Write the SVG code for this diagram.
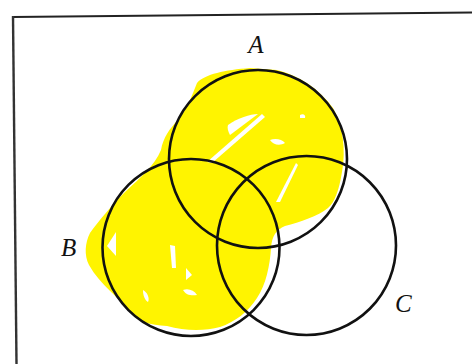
<svg xmlns="http://www.w3.org/2000/svg" width="472" height="364" viewBox="0 0 472 364">
<style>
.set{fill:none;stroke:#111;stroke-width:2.6}
.lbl{font-family:"Liberation Serif","DejaVu Serif",serif;font-style:italic;font-size:25px;fill:#111}
.gap{fill:#fff}
</style>
<rect width="472" height="364" fill="#fff"/>
<g id="frame">
<path d="M12.5,17 L472,12.5" stroke="#222" stroke-width="2.2" fill="none"/>
<path d="M13,16 L16.5,364" stroke="#333" stroke-width="2.4" fill="none"/>
</g>
<g id="shading">
<path fill="#FFF400" d="M197,83 C205,74 225,70 250,68 L277,70 C300,76 318,88 333,108 C343,125 346,150 342,172 C339,190 335,202 328,208 C318,216 300,222 285,226 C276,230 272,236 271,248 C270,265 266,285 257,298 C248,312 235,322 220,327 C205,331 185,331 167,326 C150,325 138,322 130,312 C120,298 100,285 89,265 C84,255 85,243 90,233 C98,222 112,205 125,192 C140,178 155,165 161,150 C163,138 170,128 178,120 C186,110 190,100 193,93 Z"/>
<path class="gap" d="M207,162 L262,114 L265,117 L212,163 Z"/>
<path class="gap" d="M228,125 C238,118 250,114 258,114 L230,135 C228,131 227,128 228,125 Z"/>
<path class="gap" d="M276,202 L296,163 L298,165 L280,202 Z"/>
<path class="gap" d="M270,140 C275,138 282,139 285,143 C280,146 273,145 270,140 Z"/>
<path class="gap" d="M300,115 C303,113 306,115 305,118 L300,118 Z"/>
<path class="gap" d="M107,246 L116,232 L116,256 Z"/>
<path class="gap" d="M170,245 L175,246 L176,268 L172,268 Z"/>
<path class="gap" d="M183,290 C188,288 194,290 197,295 C191,296 186,295 183,290 Z"/>
<path class="gap" d="M143,290 C147,292 150,298 148,302 C145,300 143,296 143,290 Z"/>
<path class="gap" d="M186,268 L192,275 L186,280 Z"/>
<path class="gap" d="M125,318 C130,322 138,326 146,327 L137,330 Z"/>
</g>
<g id="set-A">
<circle class="set" cx="258" cy="159" r="89"/>
<text class="lbl" x="256" y="53" text-anchor="middle">A</text>
</g>
<g id="set-B">
<circle class="set" cx="191" cy="247.5" r="88.5"/>
<text class="lbl" x="61" y="256">B</text>
</g>
<g id="set-C">
<circle class="set" cx="306.5" cy="245.5" r="89.5"/>
<text class="lbl" x="395" y="312">C</text>
</g>
<g id="connectors"/>
</svg>
